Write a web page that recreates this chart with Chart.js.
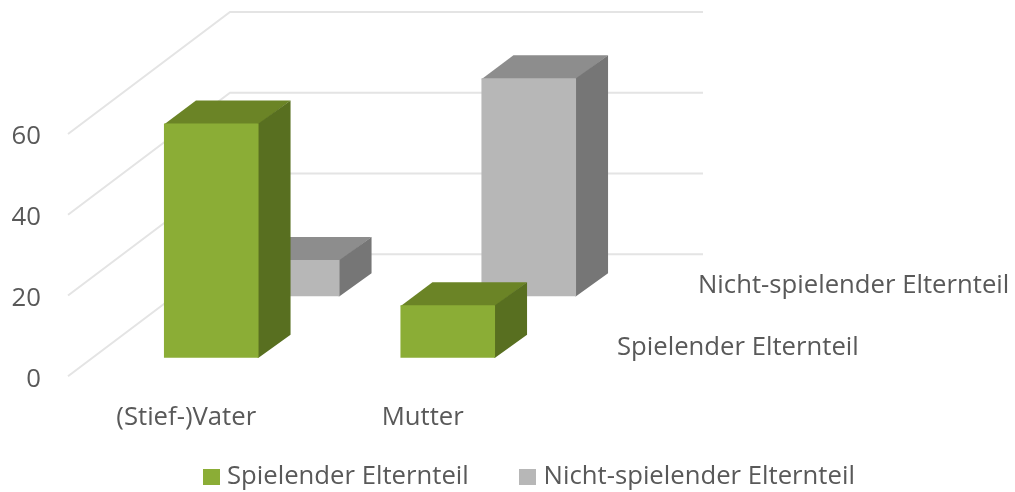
<!DOCTYPE html>
<html><head><meta charset="utf-8">
<style>html,body{margin:0;padding:0;background:#fff}#w{width:1015px;height:492px}</style>
<script src="https://cdn.jsdelivr.net/npm/chart.js@4"></script>
</head><body><div id="w"><canvas id="c"></canvas></div>
<script>
const categories = ['(Stief-)Vater', 'Mutter'];
const seriesNames = ['Spielender Elternteil', 'Nicht-spielender Elternteil'];
const spielend = [58, 13];
const nichtSpielend = [9, 54];
const yTicks = [0, 20, 40, 60];

const TEXT = '#595959';
const FONT = '"Open Sans"';
const FONT_SIZE = 25.7;
const WALL = {dx: 162, dy: -122};
const ROWS = [{dx: 25, dy: -18.5}, {dx: 106, dy: -80}];
const EXTRUDE = {dx: 32, dy: -23};
const LEGEND_SHIFT = {dx: 24, dy: -23.5};
const Y_LABEL_DROP = 3;
const FACES = [
  {front: '#8bad36', top: '#6b8426', side: '#586f20'},
  {front: '#b7b7b7', top: '#8d8d8d', side: '#767676'}
];
function swatch(color) {
  const c = document.createElement('canvas');
  c.width = 17; c.height = 16;
  const g = c.getContext('2d');
  g.fillStyle = color;
  g.fillRect(0, 0, 17, 16);
  return c;
}
const SWATCHES = FACES.map(f => swatch(f.front));

const threeD = {
  id: 'threeD',
  afterLayout(chart) {
    const l = chart.legend;
    l.left += LEGEND_SHIFT.dx;
    l.right += LEGEND_SHIFT.dx;
    l.top += LEGEND_SHIFT.dy;
    l.bottom += LEGEND_SHIFT.dy;
    chart.scales.y.getLabelItems(chart.chartArea).forEach(item => {
      item.options.translation[1] += Y_LABEL_DROP;
    });
  },
  beforeDatasetsDraw(chart) {
    const {ctx, chartArea: a, scales: {y}} = chart;
    ctx.save();
    ctx.strokeStyle = '#e4e4e4';
    ctx.lineWidth = 2;
    yTicks.forEach(t => {
      const p = y.getPixelForValue(t);
      ctx.beginPath();
      ctx.moveTo(a.left, p);
      ctx.lineTo(a.left + WALL.dx, p + WALL.dy);
      ctx.lineTo(a.right + WALL.dx, p + WALL.dy);
      ctx.stroke();
    });
    ctx.restore();
  },
  beforeDatasetDraw(chart, args) {
    const ctx = chart.ctx, o = ROWS[args.index], f = FACES[args.index], e = EXTRUDE;
    ctx.save();
    ctx.translate(o.dx, o.dy);
    args.meta.data.forEach(b => {
      const l = b.x - b.width / 2, r = b.x + b.width / 2;
      ctx.fillStyle = f.top;
      ctx.beginPath();
      ctx.moveTo(l, b.y + 1); ctx.lineTo(l + e.dx, b.y + e.dy);
      ctx.lineTo(r + e.dx, b.y + e.dy); ctx.lineTo(r, b.y + 1);
      ctx.closePath(); ctx.fill();
      ctx.fillStyle = f.side;
      ctx.beginPath();
      ctx.moveTo(r - 1, b.y); ctx.lineTo(r, b.y); ctx.lineTo(r + e.dx, b.y + e.dy);
      ctx.lineTo(r + e.dx, b.base + e.dy); ctx.lineTo(r, b.base); ctx.lineTo(r - 1, b.base);
      ctx.closePath(); ctx.fill();
    });
  },
  afterDatasetDraw(chart) {
    chart.ctx.restore();
  },
  afterDatasetsDraw(chart) {
    const {ctx, chartArea: a} = chart;
    ctx.save();
    ctx.fillStyle = TEXT;
    ctx.font = FONT_SIZE + 'px ' + FONT;
    ctx.textAlign = 'left';
    ctx.textBaseline = 'middle';
    seriesNames.forEach((n, i) => {
      const r = ROWS[i];
      ctx.fillText(n, a.right + r.dx + 51, a.bottom + r.dy - 10.5);
    });
    ctx.restore();
  }
};
new Chart(document.getElementById('c'), {
  type: 'bar',
  plugins: [threeD],
  data: {
    labels: categories,
    datasets: [
      {label: seriesNames[0], data: spielend, backgroundColor: FACES[0].front},
      {label: seriesNames[1], data: nichtSpielend, backgroundColor: FACES[1].front}
    ]
  },
  options: {
    responsive: true, maintainAspectRatio: false, animation: false,
    layout: {padding: {top: 134, left: 0, right: 0, bottom: -31}},
    datasets: {bar: {grouped: false, categoryPercentage: 1, barPercentage: 0.4, clip: false, borderWidth: 0}},
    plugins: {
      tooltip: {enabled: false},
      legend: {
        position: 'bottom',
        labels: {
          color: TEXT, font: {family: FONT, size: FONT_SIZE},
          usePointStyle: true, pointStyleWidth: 6, boxHeight: 16, padding: 56,
          generateLabels(chart) {
            return Chart.defaults.plugins.legend.labels.generateLabels(chart)
              .map(l => ({...l, pointStyle: SWATCHES[l.datasetIndex]}));
          }
        }
      }
    },
    scales: {
      x: {
        grid: {display: false}, border: {display: false},
        ticks: {color: TEXT, font: {family: FONT, size: FONT_SIZE}, padding: 18, maxRotation: 0},
        afterFit(s) { s.height = 55; }
      },
      y: {
        min: 0, max: 60,
        grid: {display: false}, border: {display: false},
        ticks: {color: TEXT, font: {family: FONT, size: FONT_SIZE}, padding: 19, stepSize: 20},
        afterFit(s) { s.width = 68; }
      },
      spacer: {
        axis: 'y', position: 'right', display: true,
        grid: {display: false}, border: {display: false},
        ticks: {display: false},
        afterFit(s) { s.width = 474; }
      }
    }
  }
});
</script></body></html>
